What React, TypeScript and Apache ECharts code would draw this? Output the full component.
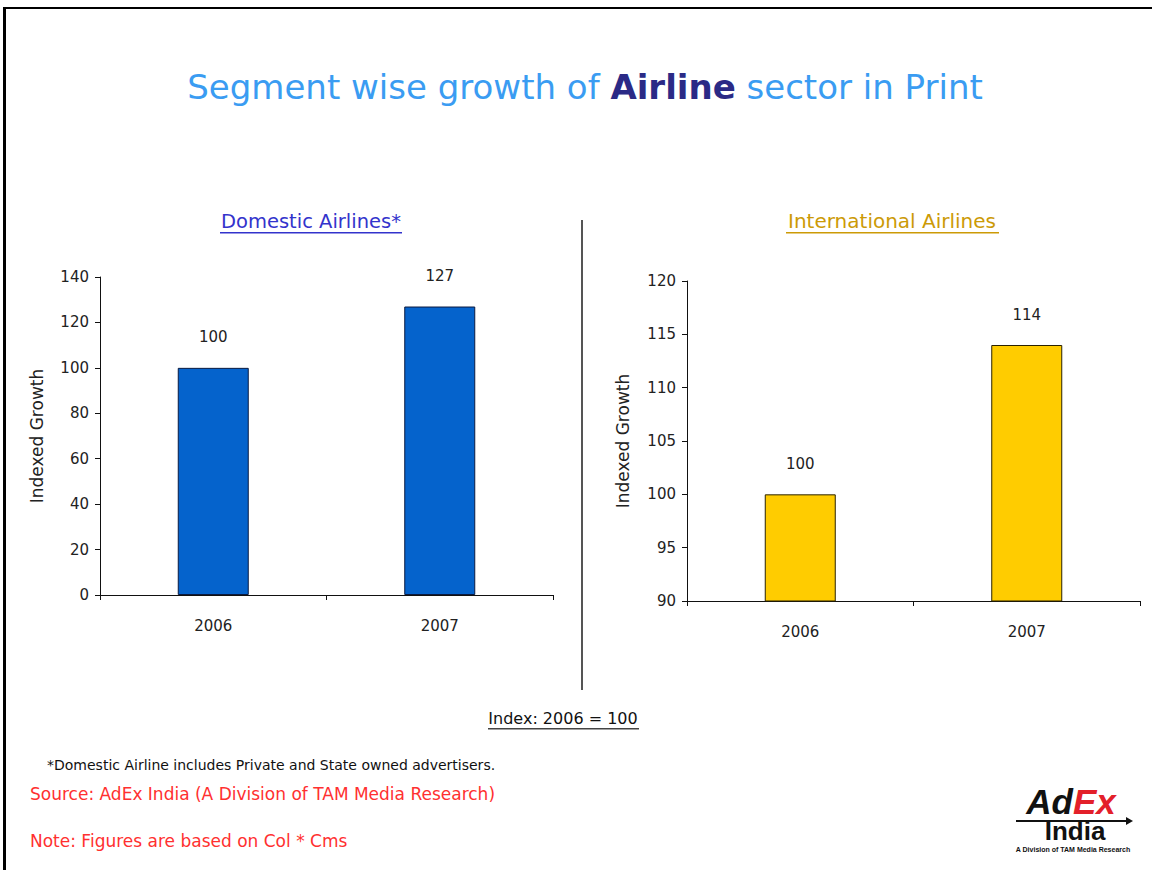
import React, { useEffect, useRef } from "react";
import * as echarts from "echarts";

const categories = ["2006", "2007"];
const domesticValues = [100, 127];
const internationalValues = [100, 114];
const domesticTicks = { min: 0, max: 140, interval: 20 };
const internationalTicks = { min: 90, max: 120, interval: 5 };

const axisFont = "'DejaVu Sans', Verdana, sans-serif";
const logoFont = "'Liberation Sans', Arial, sans-serif";
const uiFont = "'DejaVu Sans', Verdana, sans-serif";

export default function App() {
  const ref = useRef<HTMLDivElement>(null);
  useEffect(() => {
    document.body.style.margin = "0";
    const chart = echarts.init(ref.current!, null, { renderer: "svg" });
    const yAxisBase = (t: any) => ({
      type: "value",
      min: t.min,
      max: t.max,
      interval: t.interval,
      name: "Indexed Growth",
      nameLocation: "middle",
      nameRotate: 90,
      nameTextStyle: { fontFamily: axisFont, fontSize: 17, color: "#222" },
      axisLine: { show: true, lineStyle: { color: "#111", width: 1 } },
      axisTick: { show: true, length: 5, lineStyle: { color: "#111" } },
      axisLabel: { fontFamily: axisFont, fontSize: 15, color: "#222", margin: 11 },
      splitLine: { show: false },
    });
    const xAxisBase = (gi: number) => ({
      type: "category",
      gridIndex: gi,
      data: categories,
      axisLine: { lineStyle: { color: "#111", width: 1 } },
      axisTick: { show: true, length: 5, lineStyle: { color: "#111" } },
      axisLabel: { fontFamily: axisFont, fontSize: 15, color: "#222", margin: 23 },
    });
    const labelStyle = {
      show: true,
      position: "top",
      distance: 23,
      fontFamily: axisFont,
      fontSize: 15,
      color: "#222",
    };
    chart.setOption({
      animation: false,
      backgroundColor: "#ffffff",
      grid: [
        { left: 100, top: 277, width: 453, height: 318 },
        { left: 687, top: 281, width: 453, height: 320 },
      ],
      xAxis: [xAxisBase(0), xAxisBase(1)],
      yAxis: [
        { ...yAxisBase(domesticTicks), gridIndex: 0, nameGap: 55 },
        { ...yAxisBase(internationalTicks), gridIndex: 1, nameGap: 56 },
      ],
      series: [
        {
          type: "bar",
          xAxisIndex: 0,
          yAxisIndex: 0,
          data: domesticValues,
          barWidth: 71,
          itemStyle: { color: "#0563CC", borderColor: "#0A1A40", borderWidth: 1 },
          label: labelStyle,
        },
        {
          type: "bar",
          xAxisIndex: 1,
          yAxisIndex: 1,
          data: internationalValues,
          barWidth: 71,
          itemStyle: { color: "#FFCC00", borderColor: "#2A2200", borderWidth: 1 },
          label: labelStyle,
        },
      ],
      graphic: [
        { type: "rect", shape: { x: 3, y: 7, width: 1149, height: 2 }, style: { fill: "#000" } },
        { type: "rect", shape: { x: 3, y: 7, width: 3, height: 863 }, style: { fill: "#000" } },
        { type: "rect", shape: { x: 581, y: 220, width: 2, height: 470 }, style: { fill: "#555" } },
        {
          type: "text",
          x: 585,
          y: 87,
          style: {
            text: "{a|Segment wise growth of }{b|Airline}{a| sector in Print}",
            align: "center",
            verticalAlign: "middle",
            rich: {
              a: { fontFamily: uiFont, fontSize: 34, fill: "#3A9CF2" },
              b: { fontFamily: uiFont, fontSize: 34, fontWeight: "bold", fill: "#2B2A86" },
            },
          },
        },
        {
          type: "text",
          x: 311,
          y: 221,
          style: { text: "Domestic Airlines*", align: "center", verticalAlign: "middle", fontFamily: uiFont, fontSize: 19.5, fill: "#3333CC" },
        },
        { type: "rect", shape: { x: 220, y: 232, width: 182, height: 1.5 }, style: { fill: "#3333CC" } },
        {
          type: "text",
          x: 892,
          y: 221,
          style: { text: "International Airlines", align: "center", verticalAlign: "middle", fontFamily: uiFont, fontSize: 20, fill: "#CC9A06" },
        },
        { type: "rect", shape: { x: 786, y: 232, width: 213, height: 1.5 }, style: { fill: "#CC9A06" } },
        {
          type: "text",
          x: 563,
          y: 718,
          style: { text: "Index: 2006 = 100", align: "center", verticalAlign: "middle", fontFamily: uiFont, fontSize: 16, fill: "#111" },
        },
        { type: "rect", shape: { x: 488, y: 728, width: 151, height: 1.5 }, style: { fill: "#444" } },
        {
          type: "text",
          x: 47,
          y: 765,
          style: { text: "*Domestic Airline includes Private and State owned advertisers.", align: "left", verticalAlign: "middle", fontFamily: uiFont, fontSize: 14, fill: "#111" },
        },
        {
          type: "text",
          x: 30,
          y: 794,
          style: { text: "Source: AdEx India (A Division of TAM Media Research)", align: "left", verticalAlign: "middle", fontFamily: uiFont, fontSize: 17, fill: "#FF3030" },
        },
        {
          type: "text",
          x: 30,
          y: 841,
          style: { text: "Note: Figures are based on Col * Cms", align: "left", verticalAlign: "middle", fontFamily: uiFont, fontSize: 17, fill: "#FF3030" },
        },
        {
          type: "text",
          x: 1071,
          y: 801,
          style: {
            text: "{k|Ad}{r|Ex}",
            align: "center",
            verticalAlign: "middle",
            rich: {
              k: { fontFamily: logoFont, fontSize: 35, fontWeight: "bold", fontStyle: "italic", fill: "#111" },
              r: { fontFamily: logoFont, fontSize: 35, fontWeight: "bold", fontStyle: "italic", fill: "#E3202A" },
            },
          },
        },
        { type: "line", shape: { x1: 1016, y1: 821, x2: 1126, y2: 821 }, style: { stroke: "#111", lineWidth: 2 } },
        { type: "polygon", shape: { points: [[1126, 817], [1133, 821], [1126, 825]] }, style: { fill: "#111" } },
        {
          type: "text",
          x: 1075,
          y: 831,
          style: { text: "India", align: "center", verticalAlign: "middle", fontFamily: logoFont, fontSize: 26, fontWeight: "bold", fill: "#111" },
        },
        {
          type: "text",
          x: 1073,
          y: 849,
          style: { text: "A Division of TAM Media Research", align: "center", verticalAlign: "middle", fontFamily: logoFont, fontSize: 7, fontWeight: "bold", fill: "#111" },
        },
      ],
    });
    return () => chart.dispose();
  }, []);
  return <div ref={ref} style={{ width: 1152, height: 870 }} />;
}
